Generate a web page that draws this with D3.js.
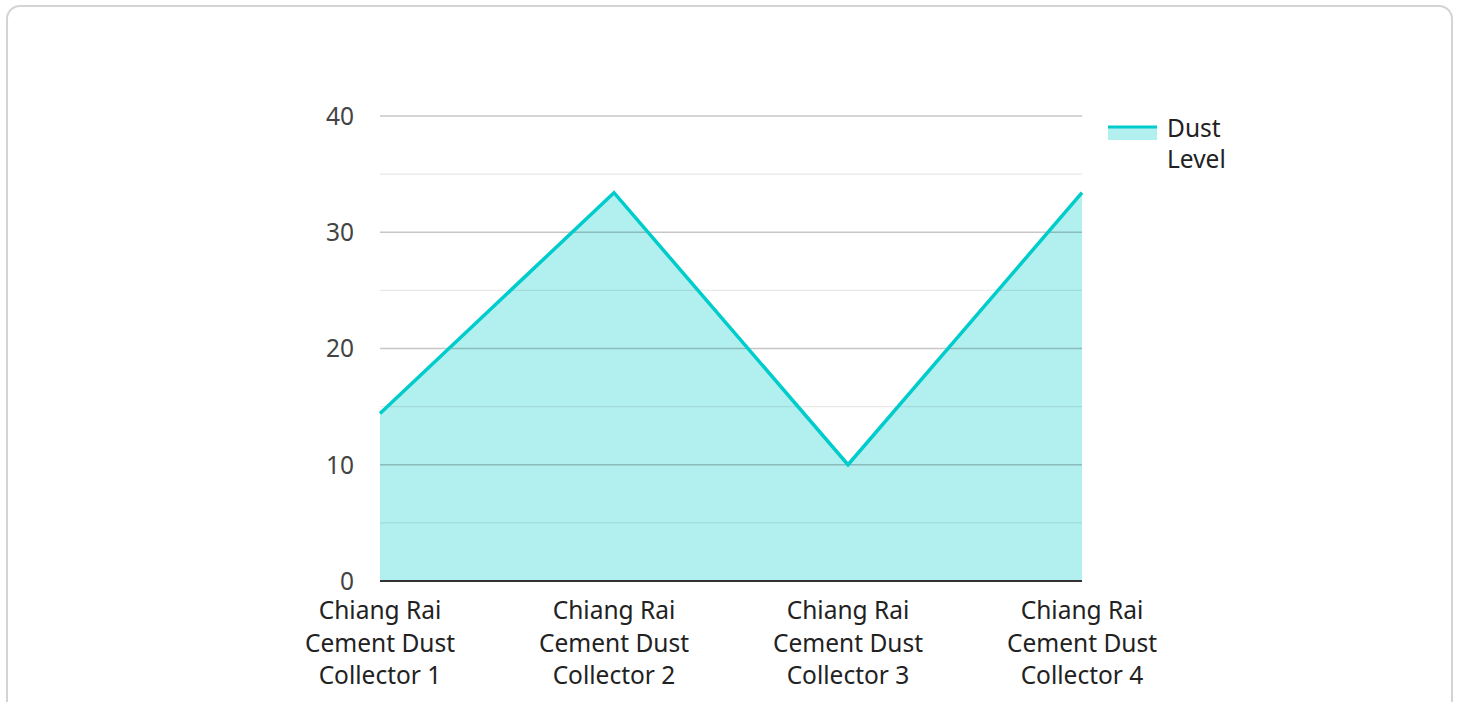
<!DOCTYPE html>
<html>
<head>
<meta charset="utf-8">
<script src="https://cdn.jsdelivr.net/npm/d3@7"></script>
<style>
  body { margin: 0; background: #fff; font-family: "Noto Sans", "Open Sans", sans-serif; }
  .card { position: absolute; left: 6px; top: 5px; width: 1447px; height: 720px;
          border: 2px solid #d4d4d4; border-radius: 14px; box-sizing: border-box; }
  svg { position: absolute; left: 0; top: 0; }
</style>
</head>
<body>
<div class="card"></div>
<div class="chart"></div>
<script>
const categories = [
  ["Chiang Rai", "Cement Dust", "Collector 1"],
  ["Chiang Rai", "Cement Dust", "Collector 2"],
  ["Chiang Rai", "Cement Dust", "Collector 3"],
  ["Chiang Rai", "Cement Dust", "Collector 4"]
];
const dustLevel = [14.4, 33.4, 10, 33.4];
const majorTicks = [0, 10, 20, 30, 40];
const minorTicks = [5, 15, 25, 35];
const seriesName = ["Dust", "Level"];

const width = 1458, height = 702;
const plotLeft = 380, plotRight = 1082, plotTop = 116, plotBottom = 581;
const lineColor = "#00cccc", fillColor = "#b2f0ef";
const fontSize = 24.5;

let svg = d3.select("div.chart").append("svg")
    .attr("width", width).attr("height", height);

let x = d3.scalePoint().domain(d3.range(categories.length)).range([plotLeft, plotRight]);
let y = d3.scaleLinear().domain([0, 40]).range([plotBottom, plotTop]);

let data = dustLevel.map((v, i) => ({i: i, v: v}));

// area first, grid drawn over it
svg.append("path")
    .datum(data)
    .attr("d", d3.area().x(d => x(d.i)).y0(y(0)).y1(d => y(d.v)))
    .attr("fill", fillColor);

svg.append("g").selectAll("line")
    .data(minorTicks).enter().append("line")
    .attr("x1", plotLeft).attr("x2", plotRight)
    .attr("y1", d => y(d)).attr("y2", d => y(d))
    .attr("stroke", "#000").attr("stroke-opacity", 0.09).attr("stroke-width", 1.2);

svg.append("g").selectAll("line")
    .data(majorTicks.filter(d => d > 0)).enter().append("line")
    .attr("x1", plotLeft).attr("x2", plotRight)
    .attr("y1", d => y(d)).attr("y2", d => y(d))
    .attr("stroke", "#000").attr("stroke-opacity", 0.22).attr("stroke-width", 1.4);

svg.append("path")
    .datum(data)
    .attr("d", d3.line().x(d => x(d.i)).y(d => y(d.v)))
    .attr("fill", "none")
    .attr("stroke", lineColor)
    .attr("stroke-width", 3.5);

// baseline
svg.append("line")
    .attr("x1", plotLeft).attr("x2", plotRight)
    .attr("y1", y(0)).attr("y2", y(0))
    .attr("stroke", "#333").attr("stroke-width", 2);

// y labels
svg.append("g").selectAll("text")
    .data(majorTicks).enter().append("text")
    .attr("x", 354).attr("y", d => y(d))
    .attr("dy", "0.36em")
    .attr("text-anchor", "end")
    .attr("font-size", fontSize)
    .attr("fill", "#444")
    .text(d => d);

// x labels
let xl = svg.append("g").selectAll("text")
    .data(categories).enter().append("text")
    .attr("x", (d, i) => x(i))
    .attr("y", 619)
    .attr("text-anchor", "middle")
    .attr("font-size", fontSize)
    .attr("fill", "#222");
xl.selectAll("tspan")
    .data(d => d).enter().append("tspan")
    .attr("x", function () { return d3.select(this.parentNode).attr("x"); })
    .attr("dy", (d, i) => i === 0 ? 0 : 32.5)
    .text(d => d);

// legend
let lg = svg.append("g");
lg.append("rect").attr("x", 1108).attr("y", 126).attr("width", 49).attr("height", 14)
    .attr("fill", fillColor);
lg.append("line").attr("x1", 1108).attr("x2", 1157).attr("y1", 127).attr("y2", 127)
    .attr("stroke", lineColor).attr("stroke-width", 3);
lg.append("text").attr("x", 1167).attr("y", 137).attr("font-size", fontSize).attr("fill", "#222")
    .selectAll("tspan").data(seriesName).enter().append("tspan")
    .attr("x", 1167).attr("dy", (d, i) => i === 0 ? 0 : 31)
    .text(d => d);
</script>
</body>
</html>
